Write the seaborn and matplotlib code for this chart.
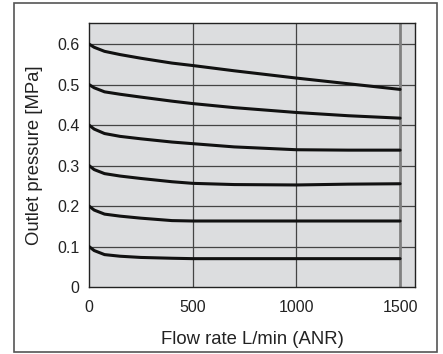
import numpy as np
import pandas as pd
import matplotlib
matplotlib.use("Agg")
import matplotlib.pyplot as plt
import seaborn as sns
from matplotlib.patches import Rectangle

# flow rate points (L/min ANR)
flow = [0, 25, 75, 150, 250, 400, 500, 700, 1000, 1250, 1500]

# outlet pressure curves (MPa), one per set pressure
p06 = [0.600, 0.592, 0.582, 0.574, 0.565, 0.553, 0.547, 0.534, 0.516, 0.502, 0.488]
p05 = [0.500, 0.492, 0.482, 0.476, 0.469, 0.459, 0.453, 0.443, 0.431, 0.423, 0.417]
p04 = [0.400, 0.390, 0.379, 0.372, 0.366, 0.358, 0.354, 0.346, 0.339, 0.338, 0.338]
p03 = [0.300, 0.290, 0.280, 0.274, 0.268, 0.260, 0.256, 0.253, 0.252, 0.254, 0.255]
p02 = [0.200, 0.190, 0.180, 0.175, 0.170, 0.164, 0.163, 0.163, 0.163, 0.163, 0.163]
p01 = [0.100, 0.090, 0.080, 0.076, 0.073, 0.071, 0.070, 0.070, 0.070, 0.070, 0.070]

curves = {"0.6": p06, "0.5": p05, "0.4": p04, "0.3": p03, "0.2": p02, "0.1": p01}

rows = []
for name, vals in curves.items():
    for f, p in zip(flow, vals):
        rows.append({"set": name, "flow": f, "pressure": p})
df = pd.DataFrame(rows)

sns.set_style("white")
plt.rcParams["font.family"] = ["Liberation Sans", "DejaVu Sans"]

fig = plt.figure(figsize=(4.43, 3.54), dpi=100)
ax = fig.add_axes([89 / 443, 1 - 287 / 354, (415 - 89) / 443, (287 - 23) / 354])
ax.set_facecolor("#dcdddf")

# outer frame
fig.patches.append(Rectangle((14 / 443, 2 / 354), 423 / 443, 349 / 354,
                             transform=fig.transFigure, fill=False,
                             edgecolor="#555555", linewidth=1.2))

ax.set_xlim(0, 1572)
ax.set_ylim(0, 0.652)
ax.set_xticks([0, 500, 1000, 1500])
ax.set_yticks([0, 0.1, 0.2, 0.3, 0.4, 0.5, 0.6])
ax.set_yticklabels(["0", "0.1", "0.2", "0.3", "0.4", "0.5", "0.6"])

for y in [0.1, 0.2, 0.3, 0.4, 0.5, 0.6]:
    ax.axhline(y, color="#444444", linewidth=0.9, zorder=1)
for x in [500, 1000]:
    ax.axvline(x, color="#444444", linewidth=0.9, zorder=1)
ax.axvline(1500, color="#808080", linewidth=2.0, zorder=1)

sns.lineplot(data=df, x="flow", y="pressure", hue="set", estimator=None,
             palette=["#111111"] * 6, linewidth=2.2, legend=False, ax=ax, zorder=3)

for s in ax.spines.values():
    s.set_color("#222222")
    s.set_linewidth(1.0)

ax.tick_params(axis="y", length=0, labelsize=11.5, colors="#222222", pad=7)
ax.tick_params(axis="x", length=0, labelsize=11.5, colors="#222222", pad=9)
ax.set_xlabel("Flow rate L/min (ANR)", fontsize=13.3, color="#222222", labelpad=12)
ax.set_ylabel("Outlet pressure [MPa]", fontsize=13.3, color="#222222", labelpad=10)

fig.savefig("out.png", dpi=100)
